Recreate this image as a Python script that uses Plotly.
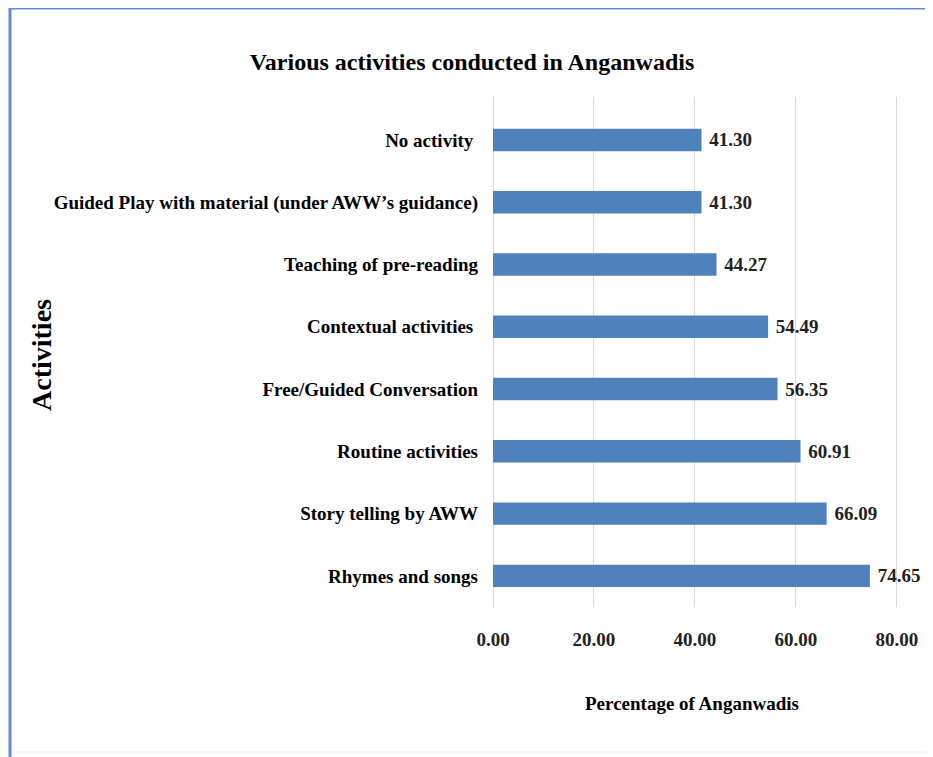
import plotly.graph_objects as go

# data (bottom -> top, as plotly draws categories)
ACTIVITIES = [
    "Rhymes and songs",
    "Story telling by AWW",
    "Routine activities",
    "Free/Guided Conversation",
    "Contextual activities ",
    "Teaching of pre-reading",
    "Guided Play with material (under AWW\u2019s guidance)",
    "No activity ",
]
PERCENTAGES = [74.65, 66.09, 60.91, 56.35, 54.49, 44.27, 41.30, 41.30]
X_TICKS = [0, 20, 40, 60, 80]
X_TICK_LABELS = [f"{v:.2f}" for v in X_TICKS]

TITLE = "Various activities conducted in Anganwadis"
X_TITLE = "Percentage of Anganwadis"
Y_TITLE = "Activities"

# styling
# the page body adds ~8px margin, so the figure is drawn 8px in from the corner
OFF = 8
W, H = 933 - OFF, 757 - OFF
PLOT_LEFT, PLOT_RIGHT = 493, 907      # target page pixels
PLOT_TOP, PLOT_BOTTOM = 97, 607
M_L, M_R = PLOT_LEFT - OFF, W - (PLOT_RIGHT - OFF)
M_T, M_B = PLOT_TOP - OFF, H - (PLOT_BOTTOM - OFF)
PLOT_W = W - M_L - M_R
PLOT_H = H - M_T - M_B
SERIF = "Liberation Serif, Times New Roman, serif"
BAR_COLOR = "#4F81BD"
GRID_COLOR = "#d9d9d9"
TEXT_COLOR = "#111111"
FRAME_BLUE = "#5b8ed6"
FRAME_LIGHT = "#c9d6ea"


def px_x(px):
    """page pixel x -> paper x"""
    return (px - PLOT_LEFT) / PLOT_W


def px_y(py):
    """page pixel y -> paper y"""
    return (PLOT_BOTTOM - py) / PLOT_H


fig = go.Figure(
    go.Bar(
        y=ACTIVITIES,
        x=PERCENTAGES,
        orientation="h",
        marker=dict(color=BAR_COLOR, line=dict(width=0)),
        texttemplate=" %{x:.2f}",
        textposition="outside",
        textfont=dict(family=SERIF, size=19, color="#222222", weight="bold"),
        cliponaxis=False,
        width=0.36,
    )
)

fig.update_layout(
    width=W,
    height=H,
    margin=dict(l=M_L, r=M_R, t=M_T, b=M_B),
    paper_bgcolor="white",
    plot_bgcolor="white",
    showlegend=False,
    font=dict(family=SERIF, color=TEXT_COLOR, size=19),
    title=dict(
        text=TITLE,
        x=(472 - OFF) / W,
        xanchor="center",
        y=1 - (62 - OFF) / H,
        yanchor="middle",
        font=dict(family=SERIF, size=24, color="#000000", weight="bold"),
    ),
    xaxis=dict(
        range=[0, 82],
        tickvals=X_TICKS,
        ticktext=X_TICK_LABELS,
        showgrid=True,
        gridcolor=GRID_COLOR,
        gridwidth=1,
        zeroline=True,
        zerolinecolor=GRID_COLOR,
        zerolinewidth=1,
        showline=False,
        ticks="",
        ticklabelstandoff=19,
        tickfont=dict(family=SERIF, size=19, color="#222222", weight="bold"),
    ),
    yaxis=dict(
        type="category",
        range=[-0.5, 7.69],
        showgrid=False,
        zeroline=False,
        showline=False,
        ticks="",
        ticklabelstandoff=14,
        tickfont=dict(family=SERIF, size=19, color="#000000", weight="bold"),
    ),
)

# axis titles placed as annotations
fig.add_annotation(
    text=X_TITLE,
    xref="paper", yref="paper",
    x=px_x(692), y=px_y(703),
    xanchor="center", yanchor="middle",
    showarrow=False,
    font=dict(family=SERIF, size=19, color="#000000", weight="bold"),
)
fig.add_annotation(
    text=Y_TITLE,
    xref="paper", yref="paper",
    x=px_x(41), y=px_y(355),
    xanchor="center", yanchor="middle",
    textangle=-90,
    showarrow=False,
    font=dict(family=SERIF, size=28, color="#000000", weight="bold"),
)

# frame: strong blue on top/left, faint on right/bottom
frame = [
    (10, 8, 10, 760, FRAME_BLUE, 3),     # left
    (10, 8, 940, 8, FRAME_BLUE, 3),      # top
    (930, 8, 930, 760, FRAME_LIGHT, 2),  # right
    (12, 752, 930, 752, "#ececec", 1),   # bottom
]
for x0, y0, x1, y1, col, lw in frame:
    fig.add_shape(
        type="line",
        xref="paper", yref="paper",
        x0=px_x(x0), x1=px_x(x1),
        y0=px_y(y0), y1=px_y(y1),
        line=dict(color=col, width=lw),
        layer="below",
    )

fig.write_html("out.html")
